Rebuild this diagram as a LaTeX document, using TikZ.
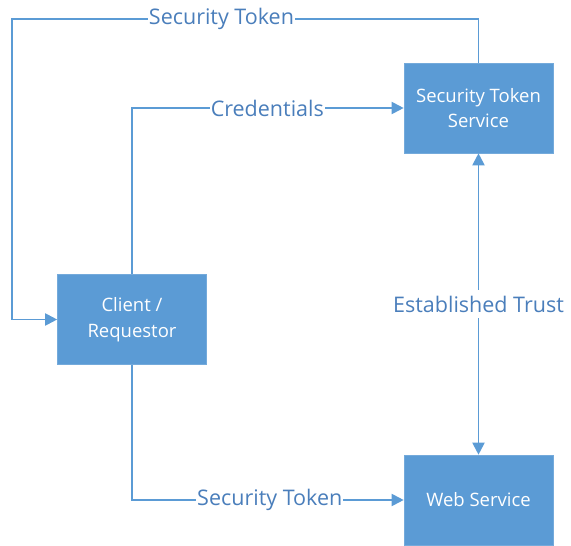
\documentclass[tikz,border=0pt]{standalone}
\usepackage{fontspec}
\setmainfont{Open Sans}
\usetikzlibrary{arrows.meta}
\definecolor{boxblue}{HTML}{5B9BD5}
\definecolor{labelblue}{HTML}{4A7EBB}
\begin{document}
\begin{tikzpicture}[x=1pt,y=-1pt,
  block/.style={fill=boxblue, draw=boxblue!85!white, line width=0.6pt,
    minimum width=149pt, minimum height=90pt, inner sep=0pt,
    text=white, font=\fontsize{18.5}{25.5}\selectfont, align=center, anchor=center},
  link/.style={draw=boxblue, line width=1.9pt,
    -{Triangle[length=12pt,width=12pt]}},
  both/.style={draw=boxblue, line width=1.9pt,
    {Triangle[length=12pt,width=12pt]}-{Triangle[length=12pt,width=12pt]}},
  tag/.style={fill=white, text=labelblue, inner sep=1pt,
    font=\fontsize{21.5}{25}\selectfont}
]
\useasboundingbox (0,0) rectangle (571,546);

% boxes
\node[block] (sts) at (478.5,108) {Security Token\\Service};
\node[block] (cli) at (132,319.5) {Client /\\Requestor};
\node[block] (ws)  at (478.5,500) {Web Service};

% bends of the connectors
\coordinate (tl) at (12,19);
\coordinate (tr) at (sts.north |- tl);
\coordinate (cl) at (12,0 |- cli.west);
\coordinate (cu) at (cli.north |- sts.west);
\coordinate (cd) at (cli.south |- ws.west);

% token from the STS back to the client
\draw[link] (sts.north) -- (tr) -- node[tag, pos=0.551] (t1) {Security Token} (tl) -- (cl) -- (cli.west);

% credentials to the STS
\draw[link] (cli.north) -- (cu) -- node[tag, pos=0.498] (t2) {Credentials} (sts.west);

% token to the web service
\draw[link] (cli.south) -- (cd) -- node[tag, pos=0.507] (t3) {Security Token} (ws.west);

% trust between STS and web service
\draw[both] (sts.south) -- node[tag, inner ysep=6pt] (t4) {Established Trust} (ws.north);
\end{tikzpicture}
\end{document}
